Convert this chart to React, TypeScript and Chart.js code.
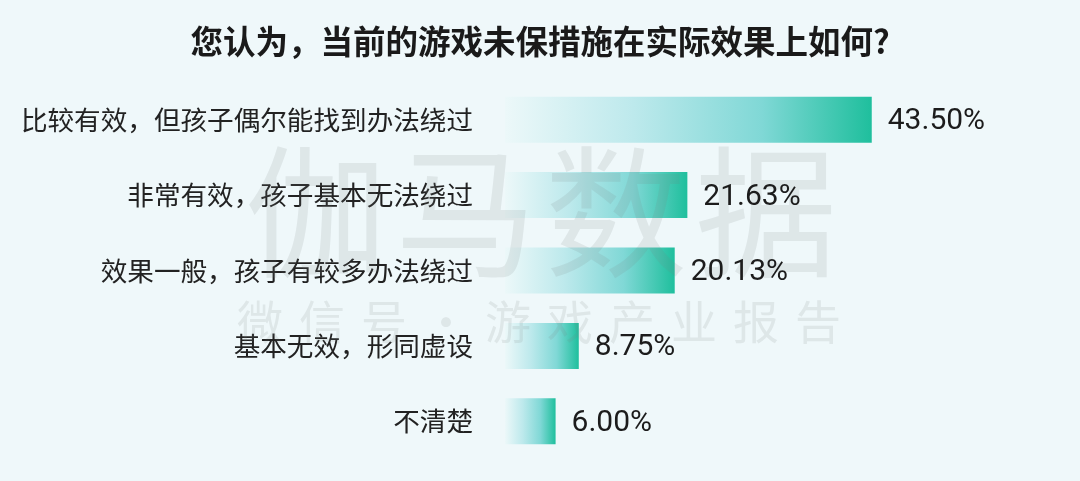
import React, { useEffect, useRef } from "react";
import { Chart, registerables } from "chart.js";

Chart.register(...registerables);

const TITLE = "您认为，当前的游戏未保措施在实际效果上如何?";
const categories = [
  "比较有效，但孩子偶尔能找到办法绕过",
  "非常有效，孩子基本无法绕过",
  "效果一般，孩子有较多办法绕过",
  "基本无效，形同虚设",
  "不清楚",
];
const values = [43.5, 21.63, 20.13, 8.75, 6.0];
const valueLabels = ["43.50%", "21.63%", "20.13%", "8.75%", "6.00%"];
const watermarkMain = "伽马数据";
const watermarkSub = "微信号·游戏产业报告";
const xAxisMax = 68.2;

const CJK = '"Noto Sans CJK SC", "Noto Sans", sans-serif';

const bgPlugin = {
  id: "bg",
  beforeDraw(chart: any) {
    const { ctx, width, height } = chart;
    ctx.save();
    ctx.fillStyle = "#eff8fa";
    ctx.fillRect(0, 0, width, height);
    ctx.restore();
  },
};

const watermarkPlugin = {
  id: "watermark",
  afterDatasetsDraw(chart: any) {
    const { ctx } = chart;
    ctx.save();
    ctx.fillStyle = "rgba(120,130,130,0.14)";
    ctx.textAlign = "center";
    ctx.textBaseline = "middle";
    ctx.font = `400 142px ${CJK}`;
    Array.from(watermarkMain).forEach((c, i) => {
      ctx.fillText(c, 316 + i * 150, 212);
    });
    ctx.font = `400 46px ${CJK}`;
    Array.from(watermarkSub).forEach((c, i) => {
      ctx.fillText(c, 260 + i * 62, 322);
    });
    ctx.restore();
  },
};

const valueLabelPlugin = {
  id: "valueLabels",
  afterDatasetsDraw(chart: any) {
    const { ctx } = chart;
    const meta = chart.getDatasetMeta(0);
    ctx.save();
    ctx.fillStyle = "#1c1c1c";
    ctx.font = `400 30px Roboto, sans-serif`;
    ctx.textAlign = "left";
    ctx.textBaseline = "middle";
    meta.data.forEach((el: any, i: number) => {
      ctx.fillText(valueLabels[i], el.x + 16, el.y + 2);
    });
    ctx.restore();
  },
};

export default function App() {
  const ref = useRef<HTMLCanvasElement>(null);
  useEffect(() => {
    document.body.style.margin = "0";
    const canvas = ref.current!;
    const chart = new Chart(canvas, {
      type: "bar",
      data: {
        labels: categories,
        datasets: [
          {
            data: values,
            backgroundColor: (c: any) => {
              const ch = c.chart;
              const xs = ch.scales?.x;
              if (!xs || c.dataIndex === undefined) return "#5fd0c4";
              const x0 = xs.getPixelForValue(0);
              const x1 = xs.getPixelForValue(values[c.dataIndex]);
              if (!isFinite(x0) || !isFinite(x1) || x1 - x0 < 1) return "#5fd0c4";
              const g = ch.ctx.createLinearGradient(x0, 0, x1, 0);
              g.addColorStop(0, "rgba(236,248,249,1)");
              g.addColorStop(0.35, "#bde9ec");
              g.addColorStop(0.7, "#80d8d6");
              g.addColorStop(1, "#1fbf9d");
              return g;
            },
            borderWidth: 0,
            barPercentage: 0.61,
            categoryPercentage: 1,
          },
        ],
      },
      options: {
        indexAxis: "y",
        responsive: false,
        animation: false,
        layout: { padding: { top: 0, right: 0, bottom: 22, left: 0 } },
        plugins: {
          legend: { display: false },
          tooltip: { enabled: false },
          title: {
            display: true,
            text: TITLE,
            color: "#1a1a1a",
            font: { family: CJK, size: 32.5, weight: "bold", lineHeight: 1.2 },
            padding: { top: 22, bottom: 21 },
          },
        },
        scales: {
          x: {
            display: false,
            min: 0,
            max: xAxisMax,
          },
          y: {
            grid: { display: false, drawTicks: false },
            border: { display: false },
            ticks: {
              color: "#222",
              padding: 32,
              font: { family: CJK, size: 26.6 },
            },
            afterFit: (s: any) => {
              s.width = 505;
              s.paddingTop = 0;
              s.paddingBottom = 0;
            },
          },
        },
      },
      plugins: [bgPlugin, watermarkPlugin, valueLabelPlugin],
    } as any);
    return () => chart.destroy();
  }, []);
  return <canvas ref={ref} width={1080} height={481} style={{ display: "block" }} />;
}
